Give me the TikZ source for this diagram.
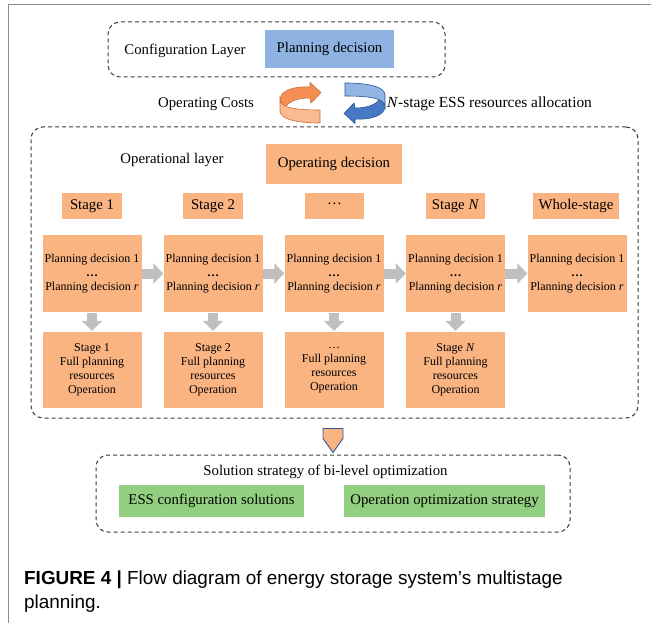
\documentclass[tikz,border=0pt]{standalone}
\usepackage{fontspec}
\setmainfont{Liberation Serif}
\newfontfamily\capfont{Liberation Sans}
\usetikzlibrary{arrows.meta,calc}
\definecolor{boxorange}{RGB}{250,180,130}
\definecolor{boxblue}{RGB}{142,178,225}
\definecolor{boxgreen}{RGB}{147,207,128}
\definecolor{arrgray}{RGB}{191,191,191}
\definecolor{dashgray}{RGB}{60,60,60}
\definecolor{framegray}{RGB}{140,140,140}
\definecolor{odark}{RGB}{244,142,82}
\definecolor{olight}{RGB}{250,186,146}
\definecolor{oline}{RGB}{205,112,52}
\definecolor{bdark}{RGB}{70,120,196}
\definecolor{blight}{RGB}{145,182,228}
\definecolor{bline}{RGB}{47,85,151}
\begin{document}
\begin{tikzpicture}[x=1pt,y=-1pt,
  dashbox/.style={draw=dashgray, dash pattern=on 4pt off 3pt, line width=1pt, rounded corners=12pt, inner sep=0pt},
  obox/.style={fill=boxorange, inner sep=0pt, align=center, font=\fontsize{14.8}{17}\selectfont},
  pbox/.style={fill=boxorange, inner sep=0pt, align=center, minimum width=99pt, font=\fontsize{12}{14.2}\selectfont},
  gbox/.style={fill=boxgreen, inner sep=0pt, minimum height=32pt, font=\fontsize{14.8}{17}\selectfont},
  lbl/.style={inner sep=0pt, font=\fontsize{14.8}{17}\selectfont},
  fatarrow/.style={draw=arrgray, line width=10pt, -{Triangle[width=20pt,length=10pt]}},
  pent/.style={fill=boxorange, draw=bline, line width=0.9pt, line join=miter},
]
\useasboundingbox (0,0) rectangle (651,623);
\draw[framegray, line width=1pt] (651,5) -- (8,5) -- (8,623);

% configuration layer
\node[dashbox, minimum width=337pt, minimum height=55pt] (cfg) at (276.5,49.5) {};
\node[lbl] (cfgl) at (185,51) {Configuration Layer};
\node[fill=boxblue, inner sep=0pt, minimum width=129pt, minimum height=38pt, font=\fontsize{14.8}{17}\selectfont] (pd) at (329.5,49) {Planning decision};

% circular arrows
\node[lbl] (oc) at (206,104) {Operating Costs};
\node[lbl, anchor=west, font=\fontsize{15.4}{17}\selectfont] (alloc) at (387,104) {\textit{N}-stage ESS resources allocation};
\begin{scope}
\filldraw[fill=odark, draw=oline, line width=0.6pt] (310,87) .. controls (295,86) and (281,90) .. (280,99) -- (284,108) .. controls (290,100) and (300,98) .. (310,98) -- (311,103) -- (321,92.5) -- (310,82.5) -- cycle;
\filldraw[fill=olight, draw=oline, line width=0.6pt] (280,99) .. controls (280,107) and (292,110) .. (320,110) -- (320,123) .. controls (296,123) and (280,119) .. (280,111) -- cycle;
\end{scope}
\begin{scope}[rotate around={180:(332.5,103)}]
\filldraw[fill=bdark, draw=bline, line width=0.6pt] (310,87) .. controls (295,86) and (281,90) .. (280,99) -- (284,108) .. controls (290,100) and (300,98) .. (310,98) -- (311,103) -- (321,92.5) -- (310,82.5) -- cycle;
\filldraw[fill=blight, draw=bline, line width=0.6pt] (280,99) .. controls (280,107) and (292,110) .. (320,110) -- (320,123) .. controls (296,123) and (280,119) .. (280,111) -- cycle;
\end{scope}

% operational layer
\node[dashbox, minimum width=607pt, minimum height=291pt] (op) at (334.5,272.5) {};
\node[lbl] (opl) at (172,160) {Operational layer};
\node[obox, minimum width=136pt, minimum height=40pt] (od) at (334,164) {Operating decision};

\node[obox, minimum width=60pt, minimum height=26pt] (s1) at (92,206) {Stage 1};
\node[obox, minimum width=60pt, minimum height=26pt] (s2) at (213,206) {Stage 2};
\node[obox, minimum width=59pt, minimum height=26pt] (s3) at (334.5,206) {\raisebox{0.25em}{…}};
\node[obox, minimum width=59pt, minimum height=26pt] (s4) at (455.5,206) {Stage \textit{N}};
\node[obox, minimum width=86pt, minimum height=26pt] (s5) at (576,206) {Whole-stage};

\foreach \i/\x in {1/92,2/213,3/334,4/455.5,5/577}{
  \node[pbox, minimum height=77pt] (p\i) at (\x,273.5) {Planning decision 1\\\textbf{…}\\Planning decision \textit{r}};
}
\node[pbox, minimum height=76pt] (b1) at (92,370) {Stage 1\\Full planning\\resources\\Operation};
\node[pbox, minimum height=76pt] (b2) at (213,370) {Stage 2\\Full planning\\resources\\Operation};
\node[pbox, minimum height=76pt] (b3) at (334,370) {…\\Full planning\\resources\\Operation};
\node[pbox, minimum height=76pt] (b4) at (455.5,370) {Stage \textit{N}\\Full planning\\resources\\Operation};

\foreach \a/\b in {1/2,2/3,3/4,4/5}{
  \draw[fatarrow] (p\a.east) -- (p\b.west);
}
\foreach \i in {1,2,3,4}{
  \draw[fatarrow, shorten <=1pt, shorten >=1pt] (p\i.south) -- (b\i.north);
}

% solution strategy
\node[dashbox, minimum width=474pt, minimum height=77pt] (sol) at (333,493.5) {};
\draw[pent] ($(op.south)+(-11.5,10)$) -- ++(20,0) -- ++(0,10) -- ++(-10,14) -- ++(-10,-14) -- cycle;
\node[lbl] (soll) at (325.5,472) {Solution strategy of bi-level optimization};
\node[gbox, minimum width=185pt] (ess) at (211.5,501) {ESS configuration solutions};
\node[gbox, minimum width=201pt] (oos) at (444.5,501) {Operation optimization strategy};

% caption
\node[anchor=base west, inner sep=0pt, font=\capfont\fontsize{18.9}{24}\selectfont] (cap1) at (24,584) {\textbf{FIGURE 4 |} Flow diagram of energy storage system’s multistage};
\node[anchor=base west, inner sep=0pt, font=\capfont\fontsize{18.9}{24}\selectfont] (cap2) at (24,608) {planning.};
\end{tikzpicture}
\end{document}
